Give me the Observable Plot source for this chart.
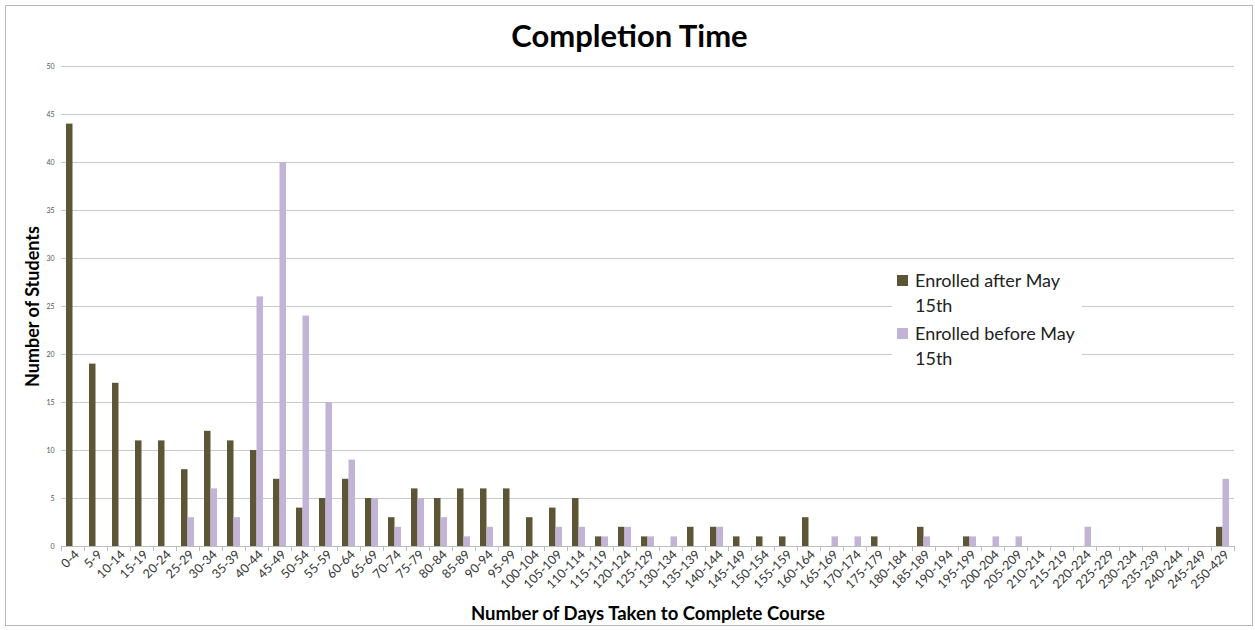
<!DOCTYPE html>
<html><head><meta charset="utf-8">
<script src="https://cdn.jsdelivr.net/npm/d3@7"></script>
<script src="https://cdn.jsdelivr.net/npm/@observablehq/plot@0.6"></script>
<style>
body{margin:0;background:#fff;font-family:Lato,"Open Sans",sans-serif;}
#frame{position:absolute;left:5px;top:5px;width:1248px;height:621px;border:1px solid #b8b8b8;box-sizing:border-box;}
#title{position:absolute;left:0;width:1259px;top:17px;text-align:center;font-size:31px;font-weight:bold;color:#000;line-height:36px;}
#chart{position:absolute;left:0;top:55px;}
#legend{position:absolute;left:892px;top:266px;width:190px;height:106px;background:#fff;font-size:18px;color:#222;}
.item{position:absolute;left:5px;padding-left:18px;line-height:25px;white-space:nowrap;}
.sw{position:absolute;left:0;top:7px;width:11px;height:11px;}
</style></head>
<body>
<div id="frame"></div>
<div id="title">Completion Time</div>
<div id="chart"></div>
<div id="legend">
  <div class="item" style="top:2px"><span class="sw" style="background:#5c5637"></span>Enrolled after May<br>15th</div>
  <div class="item" style="top:55px"><span class="sw" style="background:#c1b4d6"></span>Enrolled before May<br>15th</div>
</div>
<script>
const categories = ["0-4","5-9","10-14","15-19","20-24","25-29","30-34","35-39","40-44","45-49","50-54","55-59","60-64","65-69","70-74","75-79","80-84","85-89","90-94","95-99","100-104","105-109","110-114","115-119","120-124","125-129","130-134","135-139","140-144","145-149","150-154","155-159","160-164","165-169","170-174","175-179","180-184","185-189","190-194","195-199","200-204","205-209","210-214","215-219","220-224","225-229","230-234","235-239","240-244","245-249","250-429"];
const enrolledAfter = [44,19,17,11,11,8,12,11,10,7,4,5,7,5,3,6,5,6,6,6,3,4,5,1,2,1,0,2,2,1,1,1,3,0,0,1,0,2,0,1,0,0,0,0,0,0,0,0,0,0,2];
const enrolledBefore = [0,0,0,0,0,3,6,3,26,40,24,15,9,5,2,5,3,1,2,0,0,2,2,1,2,1,1,0,2,0,0,0,0,1,1,0,0,1,0,1,1,1,0,0,2,0,0,0,0,0,7];
const yTicks = [0,5,10,15,20,25,30,35,40,45,50];
const seriesNames = ["Enrolled after May 15th","Enrolled before May 15th"];
const colors = ["#5c5637","#c1b4d6"];

const after = categories.map((c,i)=>({cat:c, v:enrolledAfter[i], s:seriesNames[0]}));
const before = categories.map((c,i)=>({cat:c, v:enrolledBefore[i], s:seriesNames[1]}));

const chart = Plot.plot({
  width: 1255,
  height: 575,
  marginLeft: 61,
  marginRight: 21,
  marginTop: 11,
  marginBottom: 84,
  style: {fontFamily: "Lato, 'Open Sans', sans-serif", background: "transparent"},
  x: {type: "band", domain: categories, padding: 0, label: null},
  y: {domain: [0,50], label: null},
  color: {domain: seriesNames, range: colors},
  marks: [
    Plot.ruleY(yTicks, {stroke: "#c9c9c9", strokeWidth: 1}),
    Plot.ruleX([0], {frameAnchor:"left", y1: 0, y2: 50, stroke: "#c9c9c9"}),
    Plot.axisY(yTicks, {tickSize: 0, tickPadding: 7, fontSize: 7, fill: "#555", label: null}),
    Plot.axisX({tickSize: 0, tickRotate: -45, tickPadding: 6, fontSize: 12.5, fill: "#333", textAnchor: "end", dx: 4, label: null}),
    Plot.barY(after, {x: "cat", y: "v", fill: "s", insetLeft: 5, insetRight: 11.5}),
    Plot.barY(before, {x: "cat", y: "v", fill: "s", insetLeft: 11.5, insetRight: 5}),
    Plot.ruleY([0], {stroke: "#bdbdbd", strokeWidth: 1}),
    Plot.ruleX(categories, {x: d=>d, y1: 0, y2: 0.55, dy: 5, dx: -11.5, stroke: "#bdbdbd"}),
    Plot.ruleX(categories.slice(-1), {x: d=>d, y1: 0, y2: 0.55, dy: 5, dx: 11.5, stroke: "#bdbdbd"}),
    Plot.text(["Number of Students"], {frameAnchor: "left", textAnchor: "middle", lineAnchor: "middle", dx: -28, rotate: -90, fontSize: 18, fontWeight: "bold", fill: "#000"}),
    Plot.text(["Number of Days Taken to Complete Course"], {frameAnchor: "bottom", textAnchor: "middle", lineAnchor: "middle", dy: 68, fontSize: 18.5, fontWeight: "bold", fill: "#000"})
  ]
});
document.getElementById("chart").appendChild(chart);
</script>
</body></html>
